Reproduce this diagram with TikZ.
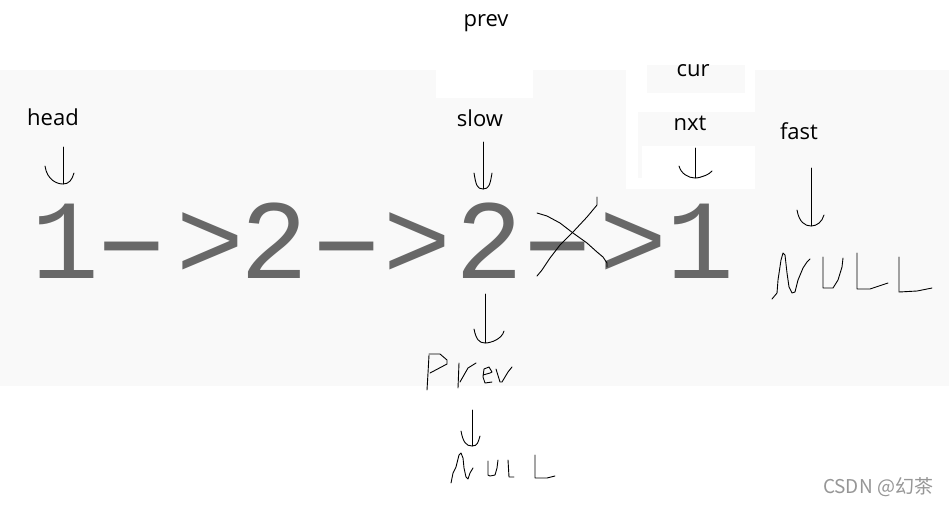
\documentclass[tikz,border=0pt]{standalone}
\usepackage{fontspec}
\setmainfont{Open Sans}
\newfontfamily\glyphfont{Liberation Mono}
\newfontfamily\cjkfont{Noto Sans CJK SC}
\definecolor{bggray}{RGB}{249,249,249}
\definecolor{glyphgray}{RGB}{104,104,104}
\definecolor{markgray}{RGB}{150,150,150}

% hand drawn down arrow: x, top, bottom, left tip x/y, right tip x/y
\newcommand{\downhook}[7]{%
  \draw[hand] (#1,#2) -- (#1,#3);
  \draw[hand] (#4,#5) .. controls (#4+2,#3-4) and (#1-6,#3) .. (#1,#3)
    .. controls (#1+6,#3) and (#6-2,#3-4) .. (#6,#7);
}

\begin{document}
\begin{tikzpicture}[x=1pt, y=-1pt,
  lbl/.style={font=\fontsize{22}{26}\selectfont, anchor=base, inner sep=0pt},
  glyph/.style={font=\glyphfont\fontsize{113}{116}\selectfont, text=glyphgray,
                anchor=base, inner sep=0pt},
  hand/.style={line width=0.9pt, line join=round, line cap=round}
]
% canvas and screenshot patches
\fill[white] (0,0) rectangle (949,504);
\fill[bggray] (0,70) rectangle (949,386);
\fill[white] (436,70) rectangle (533,98);
\fill[white] (626,69) rectangle (755,189);
\fill[bggray] (647,65) rectangle (745,93);
\fill[bggray] (638,112) rectangle (755,178);
\fill[white] (642,146) rectangle (755,178);

% pointer labels
\node[lbl] (prev) at (486,26) {prev};
\node[lbl] (head) at (53,125) {head};
\node[lbl] (slow) at (480,126) {slow};
\node[lbl] (cur)  at (693,76) {cur};
\node[lbl] (nxt)  at (690,130) {nxt};
\node[lbl] (fast) at (799,139) {fast};

% the list 1->2->2->1, one glyph per node
\foreach \gx/\gc [count=\i] in {65/1, 210/>, 274/2, 417/>, 489/2, 633/>, 700/1}
  \node[glyph] (g\i) at (\gx,278) {\gc};
\foreach \gx [count=\i] in {132, 347, 558}
  \node[glyph, xscale=1.75] (h\i) at (\gx,276) {\makebox[28pt]{-}};

% hand drawn arrows
\downhook{63}{147}{184}{45}{166}{74}{173}
\downhook{483}{142}{189}{474}{173}{492}{173}
\downhook{695}{148}{178}{679}{166}{712}{171}
\downhook{811}{168}{226}{797}{210}{824}{215}
\downhook{485}{294}{343}{474}{329}{504}{331}
\downhook{472}{410}{446}{461}{431}{480}{436}

% cross over the third link
\draw[hand] (537,213) -- (547,216) -- (560,223) -- (573,233) -- (587,243)
  -- (597,252) -- (603,257) -- (607,263) -- (607,267);
\draw[hand] (597,197) -- (597,205) -- (587,217) -- (573,232) -- (560,245)
  -- (550,258) -- (542,270) -- (537,276);

% NULL after fast
\draw[hand] (772,299) -- (777,293) -- (778,280) -- (781,260) -- (783,253)
  -- (785,255) -- (787,273) -- (789,287) -- (792,293) -- (795,292)
  -- (798,280) -- (803,268) -- (807,262) -- (810,259);
\draw[hand] (823,257) -- (823,288) -- (833,288) -- (838,280) -- (842,267) -- (843,258);
\draw[hand] (857,253) -- (857,289) -- (870,289) -- (888,283);
\draw[hand] (899,257) -- (899,292) -- (917,291) -- (932,288);

% Prev
\draw[hand] (427,390) -- (428,373) -- (429,355);
\draw[hand] (429,354) -- (440,354) -- (447,360) -- (447,364) -- (430,373);
\draw[hand] (458,388) -- (459,363);
\draw[hand] (460,382) -- (468,368) -- (476,363);
\draw[hand] (483,375) -- (490,373) -- (492,372) -- (489,367) -- (484,369)
  -- (483,377) -- (485,383) -- (492,382);
\draw[hand] (496,369) -- (500,382) -- (502,382) -- (508,372) -- (512,367);

% NULL after Prev
\draw[hand] (451,483) -- (453,473) -- (456,467) -- (459,455) -- (461,453)
  -- (463,458) -- (464,468) -- (466,477) -- (468,479) -- (470,473) -- (473,468);
\draw[hand] (488,461) -- (488,475) -- (490,476) -- (495,475) -- (497,468) -- (498,460);
\draw[hand] (508,460) -- (509,477) -- (514,477);
\draw[hand] (535,455) -- (535,478) -- (547,478) -- (555,476);

% watermark
\node[font=\cjkfont\fontsize{19}{22}\selectfont, text=markgray, inner sep=0pt]
  (mark) at (878,487) {CSDN @幻茶};
\end{tikzpicture}
\end{document}
